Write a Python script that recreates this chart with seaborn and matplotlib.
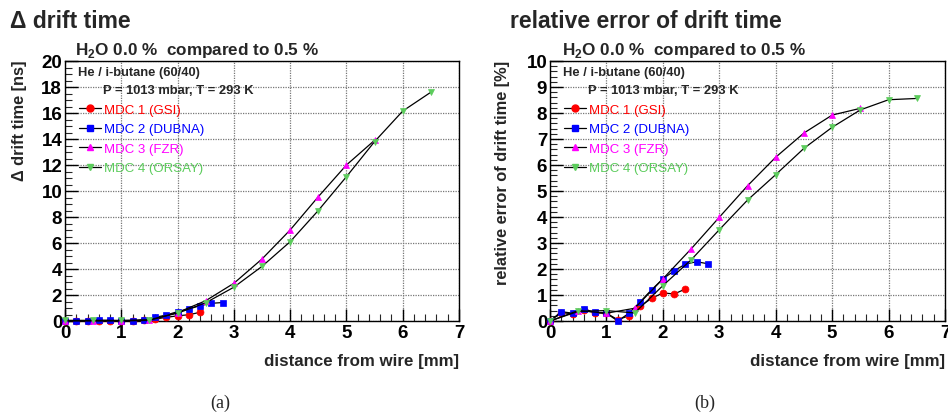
import numpy as np
import pandas as pd
import matplotlib
matplotlib.use("Agg")
import matplotlib.pyplot as plt
from matplotlib.lines import Line2D
from matplotlib.ticker import MultipleLocator
import seaborn as sns

# ---------------- data ----------------
x_mdc1 = [0.0, 0.2, 0.4, 0.6, 0.8, 1.0, 1.2, 1.4, 1.6, 1.8, 2.0, 2.2, 2.4]
dt_mdc1 = [0.0, 0.0, 0.0, 0.0, 0.0, 0.0, 0.0, 0.05, 0.15, 0.28, 0.40, 0.48, 0.67]
re_mdc1 = [0.0, 0.32, 0.28, 0.42, 0.32, 0.30, 0.05, 0.20, 0.57, 0.87, 1.08, 1.04, 1.23]

x_mdc2 = [0.0, 0.2, 0.4, 0.6, 0.8, 1.0, 1.2, 1.4, 1.6, 1.8, 2.0, 2.2, 2.4, 2.6, 2.8]
dt_mdc2 = [0.0, 0.0, 0.0, 0.05, 0.05, 0.0, 0.0, 0.1, 0.28, 0.46, 0.72, 0.92, 1.18, 1.36, 1.42]
re_mdc2 = [0.0, 0.36, 0.30, 0.46, 0.33, 0.30, 0.0, 0.30, 0.74, 1.20, 1.62, 1.93, 2.19, 2.28, 2.20]

x_mdc3 = [0.0, 0.5, 1.0, 1.5, 2.0, 2.5, 3.0, 3.5, 4.0, 4.5, 5.0, 5.5]
dt_mdc3 = [0.0, 0.0, 0.0, 0.05, 0.65, 1.56, 2.9, 4.77, 7.0, 9.56, 12.0, 13.9]
re_mdc3 = [0.0, 0.40, 0.30, 0.49, 1.62, 2.77, 3.99, 5.20, 6.30, 7.23, 7.92, 8.18]

x_mdc4 = [0.0, 0.5, 1.0, 1.5, 2.0, 2.5, 3.0, 3.5, 4.0, 4.5, 5.0, 5.5, 6.0, 6.5]
dt_mdc4 = [0.05, 0.05, 0.05, 0.1, 0.6, 1.4, 2.6, 4.2, 6.1, 8.5, 11.1, 13.8, 16.15, 17.6]
re_mdc4 = [0.0, 0.37, 0.40, 0.31, 1.36, 2.35, 3.51, 4.65, 5.63, 6.64, 7.45, 8.12, 8.51, 8.56]

labels = ["MDC 1 (GSI)", "MDC 2 (DUBNA)", "MDC 3 (FZR)", "MDC 4 (ORSAY)"]
colors = ["#ff0000", "#0000ff", "#ff00ff", "#5ccc5c"]
markers = ["o", "s", "^", "v"]

titles = ["\u0394 drift time", "relative error of drift time"]
subtitle = "H$_\\mathbf{2}$O 0.0 %  compared to 0.5 %"
ylabels = ["\u0394 drift time [ns]", "relative error of drift time [%]"]
xlabel = "distance from wire [mm]"
panel_tags = ["(a)", "(b)"]
gas_text = "He / i-butane (60/40)"
cond_text = "P = 1013 mbar, T = 293 K"

# ---------------- style ----------------
sns.set_theme(style="white")
plt.rcParams["font.family"] = ["Liberation Sans", "DejaVu Sans"]
plt.rcParams["mathtext.fontset"] = "custom"
plt.rcParams["mathtext.rm"] = "Liberation Sans"
plt.rcParams["mathtext.bf"] = "Liberation Sans:bold"

W, H = 948, 414
fig = plt.figure(figsize=(W / 100, H / 100), dpi=100)
fig.patch.set_facecolor("white")


def fx(p):
    return p / W


def fy(p):
    return 1 - p / H


ax_left_px = [(65, 459), (550, 945)]
top_px, bot_px = 62, 322
axes = []
for (l, r) in ax_left_px:
    ax = fig.add_axes([fx(l), fy(bot_px), (r - l) / W, (bot_px - top_px) / H])
    axes.append(ax)

dt_series = [(x_mdc1, dt_mdc1), (x_mdc2, dt_mdc2), (x_mdc3, dt_mdc3), (x_mdc4, dt_mdc4)]
re_series = [(x_mdc1, re_mdc1), (x_mdc2, re_mdc2), (x_mdc3, re_mdc3), (x_mdc4, re_mdc4)]
ylims = [(0, 20), (0, 10)]
ymaj = [2, 1]
ymin = [0.5, 0.2]

for i, (ax, series) in enumerate(zip(axes, [dt_series, re_series])):
    for (xs, ys), c, m in zip(series, colors, markers):
        df = pd.DataFrame({"x": xs, "y": ys})
        sns.lineplot(data=df, x="x", y="y", ax=ax, color="black", lw=0.9,
                     marker=m, markersize=5, markerfacecolor=c,
                     markeredgecolor=c, markeredgewidth=0.5, clip_on=False,
                     zorder=3)
    ax.set_xlim(0, 7)
    ax.set_ylim(*ylims[i])
    ax.xaxis.set_major_locator(MultipleLocator(1))
    ax.xaxis.set_minor_locator(MultipleLocator(0.2))
    ax.yaxis.set_major_locator(MultipleLocator(ymaj[i]))
    ax.yaxis.set_minor_locator(MultipleLocator(ymin[i]))
    ax.tick_params(which="major", direction="in", length=9, width=1,
                   labelsize=13.5, pad=2, colors="black")
    ax.tick_params(which="minor", direction="in", length=5, width=0.8)
    ax.tick_params(top=False, right=False, which="both")
    ax.tick_params(bottom=True, left=True, which="both")
    for lab in ax.get_xticklabels() + ax.get_yticklabels():
        lab.set_fontweight("bold")
    ax.grid(True, which="major", color="#777777", linestyle=(0, (1, 1)), lw=0.9)
    for s in ax.spines.values():
        s.set_color("black")
        s.set_linewidth(1.0)
    ax.set_xlabel(xlabel, fontsize=12.2, fontweight="bold", loc="right")
    ax.xaxis.set_label_coords(1.0, -0.125)
    ax.set_ylabel(ylabels[i], fontsize=11.8, fontweight="bold", loc="top")
    ax.yaxis.set_label_coords(-0.097 if i == 0 else -0.101, 1.005)

    # legend
    handles = [Line2D([0], [0], color="black", lw=0.9, marker=m, markersize=5,
                      markerfacecolor=c, markeredgecolor=c)
               for c, m in zip(colors, markers)]
    leg = ax.legend(handles, labels, loc="upper left",
                    bbox_to_anchor=(0.035, 0.837), frameon=False, fontsize=9.5,
                    handlelength=1.7, handletextpad=0.2, labelspacing=0.56,
                    borderaxespad=0, borderpad=0)
    for t, c in zip(leg.get_texts(), colors):
        t.set_color(c)

    l = ax_left_px[i][0]
    fig.text(fx(l + 13), fy(73), gas_text, fontsize=9.3, fontweight="bold",
             va="center", ha="left")
    fig.text(fx(l + 38), fy(91), cond_text, fontsize=9.3, fontweight="bold",
             va="center", ha="left")

fig.text(fx(10), fy(22), titles[0], fontsize=16.5, fontweight="bold", va="center", ha="left")
fig.text(fx(510), fy(22), titles[1], fontsize=16.5, fontweight="bold", va="center", ha="left")
fig.text(fx(75), fy(50), subtitle, fontsize=12.3, fontweight="bold", va="center", ha="left")
fig.text(fx(562), fy(50), subtitle, fontsize=12.3, fontweight="bold", va="center", ha="left")
fig.text(fx(220), fy(403), panel_tags[0], fontsize=13, family="Liberation Serif",
         va="center", ha="center")
fig.text(fx(705), fy(403), panel_tags[1], fontsize=13, family="Liberation Serif",
         va="center", ha="center")

fig.savefig("out.png", dpi=100, facecolor="white")
